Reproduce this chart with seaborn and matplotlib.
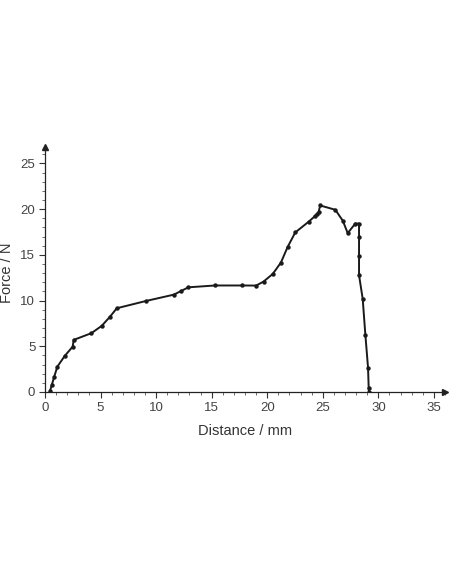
import matplotlib
matplotlib.use("Agg")
import matplotlib.pyplot as plt
from matplotlib.ticker import MultipleLocator
import pandas as pd
import seaborn as sns

# Force-distance curve
distance_mm = [0.45, 0.6, 0.81, 1.11, 1.77, 2.49, 2.58, 4.17, 5.1, 5.86, 6.46,
               9.07, 11.6, 12.25, 12.9, 15.3, 17.77, 19.0, 19.67, 20.5, 21.23,
               21.83, 22.52, 23.72, 24.26, 24.5, 24.62, 24.77, 26.13, 26.8, 27.24,
               27.93, 28.26, 28.26, 28.26, 28.26, 28.59, 28.83, 29.07, 29.13, 29.15]
force_n = [0.11, 0.73, 1.6, 2.77, 3.94, 4.96, 5.7, 6.43, 7.23, 8.25, 9.16,
           9.95, 10.65, 11.05, 11.45, 11.65, 11.65, 11.64, 12.08, 12.92, 14.16,
           15.85, 17.45, 18.62, 19.2, 19.45, 19.71, 20.4, 19.93, 18.73, 17.38,
           18.43, 18.43, 16.98, 14.9, 12.78, 10.19, 6.24, 2.66, 0.4, 0.0]

x_ticks = [0, 5, 10, 15, 20, 25, 30, 35]
y_ticks = [0, 5, 10, 15, 20, 25]

df = pd.DataFrame({"distance": distance_mm, "force": force_n})

sns.set_style("ticks")
plt.rcParams["font.family"] = ["Liberation Sans", "DejaVu Sans"]

fig = plt.figure(figsize=(4.52, 5.84), dpi=100)
ax = fig.add_axes([0.0996, 0.3288, 0.885, 0.4195])

sns.lineplot(data=df, x="distance", y="force", sort=False, ax=ax,
             color="#1a1a1a", linewidth=1.4, marker="o", markersize=3.2,
             markeredgewidth=0, estimator=None)

ax.set_xlim(0, 36)
ax.set_ylim(0, 26.8)
ax.set_xticks(x_ticks)
ax.set_yticks(y_ticks)
ax.xaxis.set_minor_locator(MultipleLocator(1))
ax.yaxis.set_minor_locator(MultipleLocator(1))
ax.tick_params(which="major", length=4, width=0.8, color="#333333",
               labelsize=9.5, labelcolor="#444444", pad=3)
ax.tick_params(which="minor", length=2.5, width=0.6, color="#555555")

for side in ("top", "right"):
    ax.spines[side].set_visible(False)
for side in ("left", "bottom"):
    ax.spines[side].set_color("#222222")
    ax.spines[side].set_linewidth(0.9)

# arrow heads at the axis ends
ax.plot(1, 0, ">", color="#222222", markersize=4,
        transform=ax.get_yaxis_transform(), clip_on=False)
ax.plot(0, 1, "^", color="#222222", markersize=4,
        transform=ax.get_xaxis_transform(), clip_on=False)

ax.set_xlabel("Distance / mm", fontsize=10.5, color="#333333")
ax.set_ylabel("Force / N", fontsize=10.5, color="#333333")
ax.xaxis.set_label_coords(0.5, -0.13)
ax.yaxis.set_label_coords(-0.078, 0.486)

fig.savefig("out.png", dpi=100)
